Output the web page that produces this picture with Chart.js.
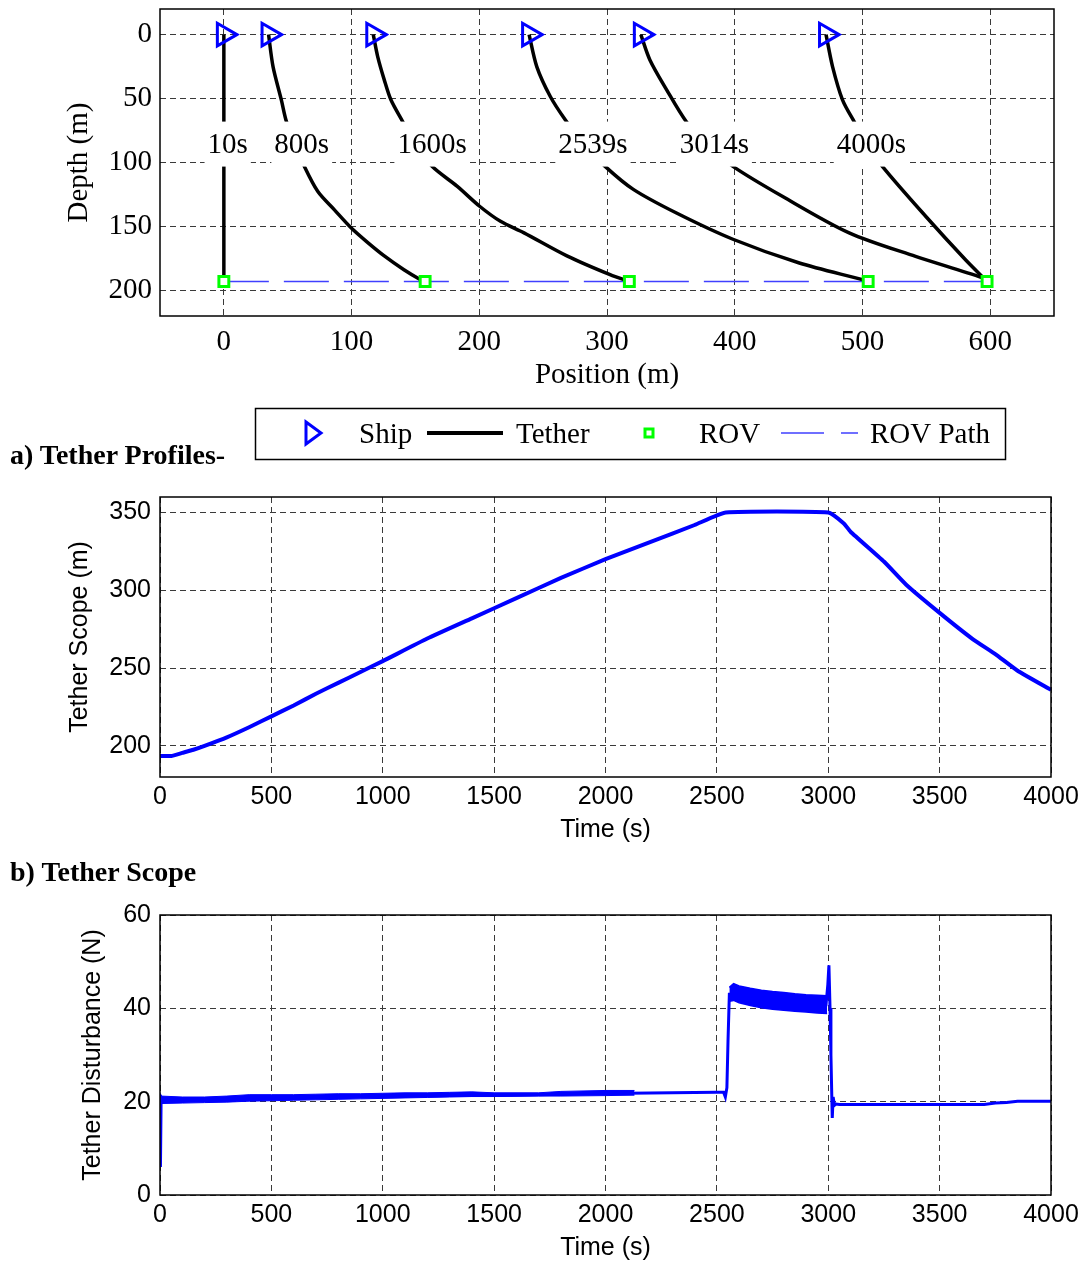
<!DOCTYPE html>
<html>
<head>
<meta charset="utf-8">
<script src="https://cdn.jsdelivr.net/npm/chart.js@4.4.1/dist/chart.umd.min.js"></script>
<style>
  body { margin: 0; background: #fff; width: 1086px; height: 1264px; position: relative; overflow: hidden; }
  canvas { position: absolute; left: 0; }
  .cap { position: absolute; left: 10px; font: bold 28px "Liberation Serif", "Times New Roman", serif; line-height: 32px; color: #000; white-space: nowrap; }
</style>
</head>
<body>
<canvas id="profiles" width="1086" height="470" style="top:0"></canvas>
<canvas id="scope" width="1086" height="400" style="top:470px"></canvas>
<canvas id="dist" width="1086" height="384" style="top:880px"></canvas>
<div class="cap" style="top:439px">a) Tether Profiles-</div>
<div class="cap" style="top:856px">b) Tether Scope</div>
<script>
const serif = '"Liberation Serif", "Times New Roman", serif';
const sans = '"Liberation Sans", Arial, sans-serif';

// a) tether profiles
const posTicks = [0, 100, 200, 300, 400, 500, 600];
const depthTicks = [0, 50, 100, 150, 200];
const profileTimes = ['10s', '800s', '1600s', '2539s', '3014s', '4000s'];
const shipX = [0, 35, 117, 239, 326.5, 471.5];
const rovX = [0, 157.6, 317.5, 504.5, 597.6];
const rovDepth = 193;
const tetherX = [
  [0, 0],
  [35, 38.5, 45, 49, 56, 63, 73.6, 86.6, 99.6, 112, 125.6, 141, 154, 157.6],
  [117, 120.4, 125.6, 130.8, 140, 150, 163, 182.8, 200, 216.6, 235, 268.6, 302.4, 317.5],
  [239, 245, 255.6, 267.3, 282, 298.5, 320.6, 354.4, 398.6, 450.6, 500, 504.5],
  [326.5, 333.6, 346.6, 362, 378, 398.6, 437.6, 489.6, 541.6, 593.6, 597.6],
  [471.5, 476.6, 484.4, 493.5, 504, 515.6, 549.5, 580.7, 597.6]
];
const tetherDepth = [
  [0, 193],
  [0, 25, 51, 68, 86, 103, 122.7, 137, 151, 162, 173, 183.8, 191.6, 193],
  [0, 17, 35.4, 51, 68, 86, 103, 118.7, 134, 146, 155, 173, 187.7, 193],
  [0, 25, 48.4, 66.6, 86, 103, 121, 139.5, 160, 178.6, 191.6, 193],
  [0, 19.8, 43, 68, 86, 103, 126.6, 155, 173.4, 190, 193],
  [0, 25, 51, 68, 86, 103, 142, 176, 193]
];
const labelX = [3, 61, 163, 289, 384, 507];
const labelDepth = 86;

// b) tether scope
const timeTicks = [0, 500, 1000, 1500, 2000, 2500, 3000, 3500, 4000];
const scopeTicks = [200, 250, 300, 350];
const scopeT = [0, 50, 100, 150, 200, 300, 400, 500, 600, 700, 800, 900, 1000, 1200, 1400, 1600, 1800, 2000, 2200, 2400, 2540, 3000, 3070, 3100, 3250, 3350, 3500, 3650, 3750, 3850, 4000];
const scopeM = [193.5, 193.5, 195.5, 197.5, 200, 205.5, 212, 219, 226, 233.5, 240.5, 247.5, 254.5, 269, 282, 295, 308, 320, 331, 342, 350, 350, 343, 337.7, 318.5, 303.6, 285.5, 268.5, 259, 248.3, 236];

// c) tether disturbance
const distTicks = [0, 20, 40, 60];
const distT = [0, 2, 5, 10, 100, 200, 300, 400, 500, 700, 900, 1100, 1300, 1500, 1700, 1900, 2100, 2300, 2500, 2530, 2538, 2545, 2550, 2556, 2600, 2700, 2800, 2900, 2990, 2998, 3003, 3008, 3012, 3018, 3022, 3028, 3035, 3050, 3300, 3700, 3750, 3800, 3850, 4000];
const distN = [21.5, 6, 20.8, 20.3, 20.2, 20.3, 20.4, 20.7, 20.7, 20.9, 21.1, 21.2, 21.3, 21.4, 21.5, 21.7, 21.8, 21.9, 22.0, 22.0, 21.0, 23, 33, 43, 43, 42, 41.5, 41, 40.8, 45, 49.2, 40, 30, 16.5, 21, 19.2, 19.5, 19.4, 19.4, 19.4, 19.7, 19.8, 20.1, 20.1];
const noiseT = [5, 100, 200, 300, 400, 500, 600, 700, 800, 900, 1000, 1100, 1200, 1300, 1400, 1500, 1700, 1800, 2000, 2130];
const noiseHi = [21.2, 21.0, 21.0, 21.2, 21.5, 21.5, 21.5, 21.6, 21.7, 21.7, 21.8, 21.9, 21.9, 22.0, 22.1, 21.9, 21.9, 22.2, 22.4, 22.4];
const noiseLo = [19.6, 19.7, 19.8, 19.9, 20.1, 20.2, 20.3, 20.4, 20.5, 20.6, 20.7, 20.8, 20.9, 21.0, 21.1, 21.1, 21.2, 21.2, 21.3, 21.4];
const plateauT = [2556, 2575, 2600, 2650, 2700, 2750, 2800, 2850, 2900, 2950, 2995];
const plateauHi = [44.5, 45.3, 44.8, 44.3, 43.9, 43.6, 43.4, 43.1, 42.9, 42.8, 42.7];
const plateauLo = [41.5, 41.7, 41.2, 40.6, 40.1, 39.8, 39.6, 39.4, 39.2, 39.0, 38.9];

const xy = (xs, ys) => xs.map((x, i) => ({x: x, y: ys[i]}));
const fixTicks = values => scale => { scale.ticks = values.map(v => ({value: v})); };
// fixed axis size, and no extra room reserved for edge tick labels
const fixWidth = w => scale => { scale.width = w; scale.paddingTop = 0; scale.paddingBottom = 0; };
const fixHeight = h => scale => { scale.height = h; scale.paddingLeft = 0; scale.paddingRight = 0; };

const frame = {
  id: 'frame',
  afterDraw(chart) {
    const {ctx, chartArea: a} = chart;
    ctx.save();
    ctx.strokeStyle = '#000';
    ctx.lineWidth = 1.5;
    ctx.strokeRect(a.left, a.top, a.right - a.left, a.bottom - a.top);
    ctx.restore();
  }
};

function axis(family, size, min, max, ticks, title, tickPad, titlePad, extra) {
  return Object.assign({
    type: 'linear', min: min, max: max,
    afterBuildTicks: fixTicks(ticks),
    grid: {color: '#3a3a3a', lineWidth: 1, drawTicks: false},
    border: {display: false, dash: [6, 4]},
    ticks: {color: '#000', padding: tickPad, font: {family: family, size: size}, callback: v => String(v)},
    title: {display: true, text: title, color: '#000', padding: titlePad, font: {family: family, size: size}}
  }, extra);
}

const timeLabels = {
  id: 'timeLabels',
  afterDatasetsDraw(chart) {
    const {ctx, scales: {x, y}} = chart;
    ctx.save();
    ctx.font = '29px ' + serif;
    ctx.textAlign = 'center';
    ctx.textBaseline = 'middle';
    profileTimes.forEach((t, i) => {
      const px = x.getPixelForValue(labelX[i]);
      const py = y.getPixelForValue(labelDepth);
      const w = ctx.measureText(t).width + 6;
      ctx.fillStyle = '#fff';
      ctx.fillRect(px - w / 2, py - 23, w, 45);
      ctx.fillStyle = '#000';
      ctx.fillText(t, px, py + 1);
    });
    ctx.restore();
  }
};

const legendBox = {
  id: 'legendBox',
  afterDraw(chart) {
    const ctx = chart.ctx;
    const cy = 433;
    ctx.save();
    ctx.fillStyle = '#fff';
    ctx.fillRect(255, 408, 750, 51);
    ctx.strokeStyle = '#000';
    ctx.lineWidth = 1.5;
    ctx.strokeRect(255.5, 408.5, 750, 51);
    // ship
    ctx.strokeStyle = '#0000ff';
    ctx.lineWidth = 3;
    ctx.beginPath();
    ctx.moveTo(306, cy - 11); ctx.lineTo(321, cy); ctx.lineTo(306, cy + 11); ctx.closePath();
    ctx.stroke();
    // tether
    ctx.strokeStyle = '#000';
    ctx.lineWidth = 4;
    ctx.beginPath(); ctx.moveTo(427, cy); ctx.lineTo(503, cy); ctx.stroke();
    // rov
    ctx.strokeStyle = '#00ff00';
    ctx.lineWidth = 3;
    ctx.strokeRect(645, cy - 4, 8, 8);
    // rov path
    ctx.strokeStyle = '#4040ff';
    ctx.lineWidth = 1.5;
    ctx.setLineDash([43, 17]);
    ctx.beginPath(); ctx.moveTo(781, cy); ctx.lineTo(858, cy); ctx.stroke();
    ctx.setLineDash([]);
    ctx.fillStyle = '#000';
    ctx.font = '29px ' + serif;
    ctx.textBaseline = 'middle';
    ctx.fillText('Ship', 359, cy + 2);
    ctx.fillText('Tether', 516, cy + 2);
    ctx.fillText('ROV', 699, cy + 2);
    ctx.fillText('ROV Path', 870, cy + 2);
    ctx.restore();
  }
};

const base = {
  responsive: false, animation: false, devicePixelRatio: 1,
  plugins: {legend: {display: false}, tooltip: {enabled: false}}
};

new Chart(document.getElementById('profiles'), {
  type: 'scatter',
  data: {
    datasets: [
      { label: 'Ship', data: shipX.map(x => ({x: x, y: 0})), showLine: false,
        pointStyle: 'triangle', pointRotation: 90, pointRadius: 13, pointBorderWidth: 3,
        pointBorderColor: '#0000ff', pointBackgroundColor: 'rgba(0,0,0,0)' },
      { label: 'ROV', data: rovX.map(x => ({x: x, y: rovDepth})), showLine: false,
        pointStyle: 'rect', pointRadius: 7, pointBorderWidth: 3,
        pointBorderColor: '#00ff00', pointBackgroundColor: '#ffffff' },
      ...tetherX.map((xs, i) => ({
        label: 'Tether ' + profileTimes[i], data: xy(xs, tetherDepth[i]), showLine: true,
        borderColor: '#000', borderWidth: 3.5, pointRadius: 0, tension: 0.3
      })),
      { label: 'ROV Path', data: [{x: rovX[0], y: rovDepth}, {x: rovX[rovX.length - 1], y: rovDepth}],
        showLine: true, borderColor: '#4040ff', borderWidth: 1.5, borderDash: [45, 15], pointRadius: 0 }
    ]
  },
  options: Object.assign({}, base, {
    layout: {autoPadding: false, padding: {top: 9, right: 32, bottom: 74, left: 0}},
    scales: {
      x: axis(serif, 29, -50, 650, posTicks, 'Position (m)', 9, {top: 0, bottom: 3}, {afterFit: fixHeight(80)}),
      y: axis(serif, 29, -20, 220, depthTicks, 'Depth (m)', 8, {top: 62, bottom: 0}, {reverse: true, afterFit: fixWidth(160)})
    }
  }),
  plugins: [timeLabels, frame, legendBox]
});

new Chart(document.getElementById('scope'), {
  type: 'scatter',
  data: {
    datasets: [
      { label: 'Tether Scope', data: xy(scopeT, scopeM), showLine: true,
        borderColor: '#0000ff', borderWidth: 4, pointRadius: 0, tension: 0.15 }
    ]
  },
  options: Object.assign({}, base, {
    layout: {autoPadding: false, padding: {top: 27, right: 35, bottom: 23, left: 0}},
    scales: {
      x: axis(sans, 25, 0, 4000, timeTicks, 'Time (s)', 5, {top: 0, bottom: 2}, {afterFit: fixHeight(70)}),
      y: axis(sans, 25, 180, 360, scopeTicks, 'Tether Scope (m)', 9, {top: 65, bottom: 0}, {afterFit: fixWidth(160)})
    }
  }),
  plugins: [frame]
});

new Chart(document.getElementById('dist'), {
  type: 'scatter',
  data: {
    datasets: [
      { label: 'Tether Disturbance', data: xy(distT, distN), showLine: true,
        borderColor: '#0000ff', borderWidth: 3, pointRadius: 0 },
      { label: 'noise hi', data: xy(noiseT, noiseHi), showLine: true, fill: '+1',
        borderColor: '#0000ff', backgroundColor: '#0000ff', borderWidth: 1, pointRadius: 0 },
      { label: 'noise lo', data: xy(noiseT, noiseLo), showLine: true,
        borderColor: '#0000ff', borderWidth: 1, pointRadius: 0 },
      { label: 'plateau hi', data: xy(plateauT, plateauHi), showLine: true, fill: '+1',
        borderColor: '#0000ff', backgroundColor: '#0000ff', borderWidth: 1.5, pointRadius: 0 },
      { label: 'plateau lo', data: xy(plateauT, plateauLo), showLine: true,
        borderColor: '#0000ff', borderWidth: 1.5, pointRadius: 0 }
    ]
  },
  options: Object.assign({}, base, {
    layout: {autoPadding: false, padding: {top: 35, right: 35, bottom: 0, left: 0}},
    scales: {
      x: axis(sans, 25, 0, 4000, timeTicks, 'Time (s)', 5, {top: 0, bottom: 1}, {afterFit: fixHeight(69)}),
      y: axis(sans, 25, 0, 60, distTicks, 'Tether Disturbance (N)', 9, {top: 78, bottom: 0}, {afterFit: fixWidth(160)})
    }
  }),
  plugins: [frame]
});
</script>
</body>
</html>
